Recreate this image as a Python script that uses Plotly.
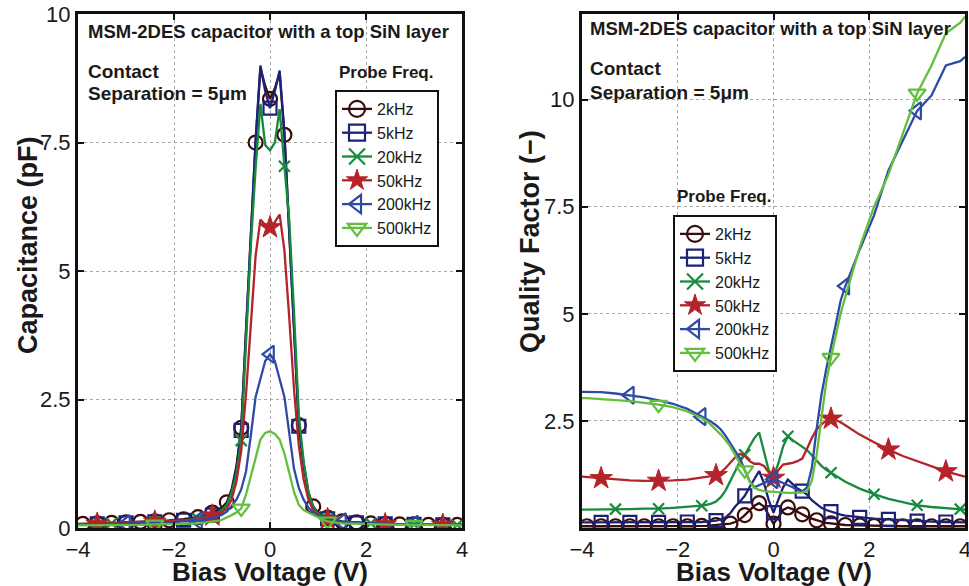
import plotly.graph_objects as go

# Bias sweep (V): coarse in the tails, 0.1 V steps around zero bias
bias_v = [-4.0, -3.9, -3.6, -3.3, -3.0, -2.7, -2.4, -2.1, -1.8,
          -1.5, -1.4, -1.3, -1.2, -1.1, -1.0, -0.9, -0.8, -0.7, -0.6, -0.5, -0.4, -0.3, -0.2, -0.1,
          0.0,
          0.1, 0.2, 0.3, 0.4, 0.5, 0.6, 0.7, 0.8, 0.9, 1.0, 1.1, 1.2, 1.3, 1.4, 1.5,
          1.8, 2.1, 2.4, 2.7, 3.0, 3.3, 3.6, 3.9, 4.0]

# Capacitance (pF)
cap_2k = [0.08, 0.08, 0.09, 0.10, 0.11, 0.12, 0.13, 0.15, 0.17,
          0.21, 0.23, 0.26, 0.30, 0.34, 0.40, 0.50, 0.75, 1.20, 1.95, 3.80, 5.70, 7.50, 8.95, 8.60,
          8.35,
          8.55, 8.85, 7.65, 5.80, 3.90, 2.00, 1.25, 0.70, 0.42, 0.30, 0.24, 0.20, 0.17, 0.15, 0.13,
          0.11, 0.09, 0.08, 0.07, 0.07, 0.06, 0.06, 0.06, 0.06]
cap_5k = [0.07, 0.07, 0.08, 0.09, 0.10, 0.11, 0.12, 0.13, 0.15,
          0.18, 0.20, 0.22, 0.25, 0.29, 0.35, 0.45, 0.70, 1.15, 1.90, 3.85, 5.75, 7.55, 9.00, 8.50,
          8.17,
          8.50, 8.90, 7.70, 5.75, 3.80, 1.98, 1.20, 0.65, 0.38, 0.27, 0.21, 0.18, 0.15, 0.13, 0.12,
          0.10, 0.09, 0.08, 0.07, 0.07, 0.06, 0.06, 0.06, 0.06]
cap_20k = [0.07, 0.07, 0.08, 0.09, 0.10, 0.11, 0.12, 0.13, 0.15,
           0.18, 0.20, 0.22, 0.25, 0.29, 0.35, 0.45, 0.68, 1.05, 1.70, 3.60, 5.50, 7.00, 8.25, 7.45,
           7.35,
           7.50, 8.15, 7.04, 6.00, 4.20, 2.20, 1.30, 0.70, 0.40, 0.28, 0.22, 0.18, 0.15, 0.13, 0.12,
           0.10, 0.09, 0.08, 0.07, 0.07, 0.06, 0.06, 0.06, 0.06]
cap_50k = [0.07, 0.07, 0.08, 0.09, 0.10, 0.11, 0.12, 0.13, 0.15,
           0.17, 0.19, 0.21, 0.24, 0.27, 0.31, 0.38, 0.55, 0.90, 1.50, 2.60, 4.00, 5.30, 6.00, 5.90,
           5.85,
           5.95, 6.10, 5.40, 4.10, 2.70, 1.60, 0.95, 0.55, 0.35, 0.25, 0.20, 0.17, 0.14, 0.12, 0.11,
           0.09, 0.08, 0.07, 0.07, 0.06, 0.06, 0.06, 0.06, 0.06]
cap_200k = [0.06, 0.06, 0.07, 0.07, 0.08, 0.09, 0.10, 0.11, 0.12,
            0.14, 0.15, 0.17, 0.19, 0.22, 0.26, 0.32, 0.43, 0.55, 0.75, 1.10, 1.80, 2.55, 2.90, 3.25,
            3.38,
            3.25, 2.90, 2.55, 1.85, 1.15, 0.78, 0.55, 0.40, 0.30, 0.24, 0.20, 0.17, 0.15, 0.13, 0.12,
            0.10, 0.09, 0.08, 0.07, 0.07, 0.06, 0.06, 0.06, 0.06]
cap_500k = [0.05, 0.05, 0.05, 0.06, 0.06, 0.06, 0.07, 0.07, 0.08,
            0.09, 0.10, 0.11, 0.12, 0.14, 0.16, 0.20, 0.25, 0.30, 0.38, 0.65, 1.00, 1.40, 1.72, 1.85,
            1.88,
            1.83, 1.72, 1.45, 1.05, 0.70, 0.45, 0.35, 0.30, 0.25, 0.20, 0.16, 0.13, 0.11, 0.10, 0.09,
            0.08, 0.07, 0.07, 0.06, 0.06, 0.06, 0.05, 0.05, 0.05]

# Quality factor (-)
q_2k = [0.04, 0.04, 0.04, 0.04, 0.04, 0.04, 0.04, 0.04, 0.04,
        0.05, 0.05, 0.06, 0.07, 0.08, 0.09, 0.10, 0.14, 0.20, 0.30, 0.42, 0.52, 0.58, 0.50, 0.30,
        0.10,
        0.25, 0.42, 0.48, 0.44, 0.38, 0.32, 0.26, 0.22, 0.18, 0.15, 0.12, 0.11, 0.09, 0.08, 0.07,
        0.06, 0.05, 0.05, 0.04, 0.04, 0.04, 0.04, 0.04, 0.04]
q_5k = [0.13, 0.13, 0.13, 0.13, 0.13, 0.13, 0.13, 0.13, 0.14,
        0.14, 0.15, 0.16, 0.17, 0.20, 0.25, 0.35, 0.50, 0.62, 0.75, 0.95, 1.15, 1.33, 1.05, 0.65,
        0.36,
        0.65, 0.95, 1.13, 1.02, 0.92, 0.86, 0.78, 0.65, 0.55, 0.47, 0.42, 0.38, 0.34, 0.31, 0.29,
        0.25, 0.22, 0.20, 0.18, 0.16, 0.15, 0.14, 0.13, 0.13]
q_20k = [0.43, 0.43, 0.44, 0.44, 0.44, 0.45, 0.45, 0.47, 0.49,
         0.52, 0.54, 0.57, 0.62, 0.72, 0.88, 1.10, 1.35, 1.55, 1.71, 1.90, 2.10, 2.23, 1.80, 1.35,
         1.21,
         1.50, 1.90, 2.14, 2.05, 1.97, 1.90, 1.82, 1.70, 1.58, 1.45, 1.36, 1.29, 1.22, 1.15, 1.08,
         0.92, 0.79, 0.68, 0.60, 0.53, 0.49, 0.46, 0.44, 0.43]
q_50k = [1.20, 1.19, 1.16, 1.13, 1.11, 1.10, 1.10, 1.11, 1.13,
         1.17, 1.19, 1.21, 1.23, 1.30, 1.40, 1.53, 1.65, 1.73, 1.68, 1.56, 1.50, 1.50, 1.45, 1.30,
         1.17,
         1.35, 1.48, 1.50, 1.52, 1.56, 1.62, 1.85, 2.10, 2.30, 2.42, 2.50, 2.55, 2.52, 2.47, 2.40,
         2.18, 2.00, 1.83, 1.68, 1.56, 1.43, 1.32, 1.23, 1.20]
q_200k = [3.18, 3.18, 3.17, 3.14, 3.10, 3.05, 2.98, 2.90, 2.78,
          2.60, 2.55, 2.48, 2.40, 2.30, 2.15, 1.97, 1.80, 1.62, 1.35, 1.10, 0.95, 1.00, 1.06, 1.10,
          1.13,
          1.10, 1.05, 1.00, 0.95, 0.88, 0.85, 0.95, 1.40, 2.30, 3.10, 3.70, 4.20, 4.75, 5.30, 5.65,
          6.50, 7.30, 8.35, 9.05, 9.74, 10.10, 10.80, 10.90, 11.00]
q_500k = [3.03, 3.03, 3.01, 2.99, 2.96, 2.92, 2.88, 2.82, 2.72,
          2.57, 2.50, 2.40, 2.30, 2.18, 2.05, 1.90, 1.70, 1.50, 1.35, 1.08, 0.94, 0.89, 0.86, 0.85,
          0.84,
          0.83, 0.82, 0.82, 0.82, 0.82, 0.83, 0.86, 1.10, 1.70, 2.60, 3.40, 3.98, 4.50, 5.00, 5.40,
          6.55, 7.50, 8.25, 9.20, 10.15, 10.80, 11.55, 11.80, 11.94]

# Bias points that carry a marker, per probe frequency
mark_2k = [-3.9, -3.6, -3.3, -3.0, -2.7, -2.4, -2.1, -1.8, -1.5, -1.2, -0.9, -0.6, -0.3,
           0.0, 0.3, 0.6, 0.9, 1.2, 1.5, 1.8, 2.1, 2.4, 2.7, 3.0, 3.3, 3.6, 3.9]
mark_5k = [-3.6, -3.0, -2.4, -1.8, -1.2, -0.6, 0.0, 0.6, 1.2, 1.8, 2.4, 3.0, 3.6]
mark_20k = [-3.3, -2.4, -1.5, -0.6, 0.3, 1.2, 2.1, 3.0, 3.9]
mark_50k = [-3.6, -2.4, -1.2, 0.0, 1.2, 2.4, 3.6]
mark_200k = [-3.0, -1.5, 0.0, 1.5, 3.0]
mark_500k = [-2.4, -0.6, 1.2, 3.0]

freq_labels = ["2kHz", "5kHz", "20kHz", "50kHz", "200kHz", "500kHz"]
cap_series = [cap_2k, cap_5k, cap_20k, cap_50k, cap_200k, cap_500k]
q_series = [q_2k, q_5k, q_20k, q_50k, q_200k, q_500k]
mark_series = [mark_2k, mark_5k, mark_20k, mark_50k, mark_200k, mark_500k]

colors = ["#3a0c0c", "#1c2377", "#178a3c", "#b5232a", "#2f4aa6", "#62bf3e"]
symbols = ["circle-open", "square-open", "x-thin", "star", "triangle-left-open", "triangle-down-open"]
msizes = [14, 13, 11, 17, 15, 15]

FONT = "Liberation Sans, Arial, Helvetica, sans-serif"
INK = "#1a1a1a"

idx = {round(v, 1): i for i, v in enumerate(bias_v)}


def marker_style(k, size):
    if symbols[k] == "star":
        return dict(symbol="star", size=size, color=colors[k],
                    line=dict(color=colors[k], width=1))
    return dict(symbol=symbols[k], size=size, color=colors[k],
                line=dict(color=colors[k], width=2.2))


fig = go.Figure()

panels = [("x", "y", cap_series, "legend"), ("x2", "y2", q_series, "legend2")]
for xa, ya, series, leg in panels:
    for k, vals in enumerate(series):
        fig.add_trace(go.Scatter(
            x=bias_v, y=vals, mode="lines", xaxis=xa, yaxis=ya,
            line=dict(color=colors[k], width=2.3), showlegend=False, hoverinfo="skip"))
        mx = mark_series[k]
        my = [vals[idx[round(v, 1)]] for v in mx]
        fig.add_trace(go.Scatter(
            x=mx, y=my, mode="markers", xaxis=xa, yaxis=ya,
            marker=marker_style(k, msizes[k]), showlegend=False))
    # legend entries (line with marker)
    for k in range(len(series)):
        fig.add_trace(go.Scatter(
            x=[None], y=[None], mode="lines+markers", xaxis=xa, yaxis=ya,
            name=freq_labels[k], legend=leg,
            line=dict(color=colors[k], width=2.3),
            marker=marker_style(k, 16)))

x_ticks = [-4, -2, 0, 2, 4]
x_ticktext = ["\u22124", "\u22122", "0", "2", "4"]

axis_common = dict(
    showgrid=True, gridcolor="#a8a8a8", griddash="dot", gridwidth=1,
    showline=True, linecolor="#111111", linewidth=3, mirror="allticks",
    ticks="inside", ticklen=6, tickwidth=1.5, tickcolor="#111111",
    zeroline=False, automargin=False, ticklabeloverflow="allow",
    tickfont=dict(family=FONT, size=22, color=INK),
)

ydom = [0.099, 0.976]
fig.update_layout(
    width=969, height=586,
    margin=dict(l=0, r=0, t=0, b=0, autoexpand=False),
    paper_bgcolor="white", plot_bgcolor="white",
    font=dict(family=FONT, color=INK),
    xaxis=dict(domain=[0.0805, 0.4768], range=[-4, 4], tickvals=x_ticks,
               ticktext=x_ticktext, anchor="y", **axis_common),
    yaxis=dict(domain=ydom, range=[0, 10], tickvals=[0, 2.5, 5, 7.5, 10],
               ticktext=["0", "2.5", "5", "7.5", "10"], anchor="x", **axis_common),
    xaxis2=dict(domain=[0.6006, 0.9959], range=[-4, 4], tickvals=x_ticks,
                ticktext=x_ticktext, anchor="y2", **axis_common),
    yaxis2=dict(domain=ydom, range=[0, 12], tickvals=[2.5, 5, 7.5, 10],
                ticktext=["2.5", "5", "7.5", "10"], anchor="x2", **axis_common),
    legend=dict(x=335 / 969, y=1 - 90 / 586, xanchor="left", yanchor="top",
                bgcolor="white", bordercolor="#111111", borderwidth=2,
                font=dict(family=FONT, size=16, color=INK), tracegroupgap=0),
    legend2=dict(x=673 / 969, y=1 - 215 / 586, xanchor="left", yanchor="top",
                 bgcolor="white", bordercolor="#111111", borderwidth=2,
                 font=dict(family=FONT, size=16, color=INK), tracegroupgap=0),
)


def px_note(text, x, y, size, xanchor="left", yanchor="middle", angle=0, bold=True):
    fig.add_annotation(
        text=f"<b>{text}</b>" if bold else text,
        x=x / 969, y=1 - y / 586, xref="paper", yref="paper",
        xanchor=xanchor, yanchor=yanchor, showarrow=False, textangle=angle,
        font=dict(family=FONT, size=size, color=INK))


title_txt = "MSM-2DES capacitor with a top SiN layer"
# left panel texts
px_note(title_txt, 86, 31, 18.5)
px_note("Contact", 86, 71, 19)
px_note("Separation = 5\u03bcm", 86, 94, 19)
px_note("Probe Freq.", 386, 72, 17, xanchor="center")
# right panel texts
px_note(title_txt, 588, 29, 18.5)
px_note("Contact", 588, 69, 19)
px_note("Separation = 5\u03bcm", 588, 92, 19)
px_note("Probe Freq.", 724, 196, 17, xanchor="center")
# axis titles
px_note("Bias Voltage (V)", 270, 572, 26, xanchor="center")
px_note("Bias Voltage (V)", 774, 572, 26, xanchor="center")
px_note("Capacitance (pF)", 28, 245, 27, xanchor="center", angle=-90)
px_note("Quality Factor (\u2212)", 530, 242, 27, xanchor="center", angle=-90)

fig.write_html("out.html")
